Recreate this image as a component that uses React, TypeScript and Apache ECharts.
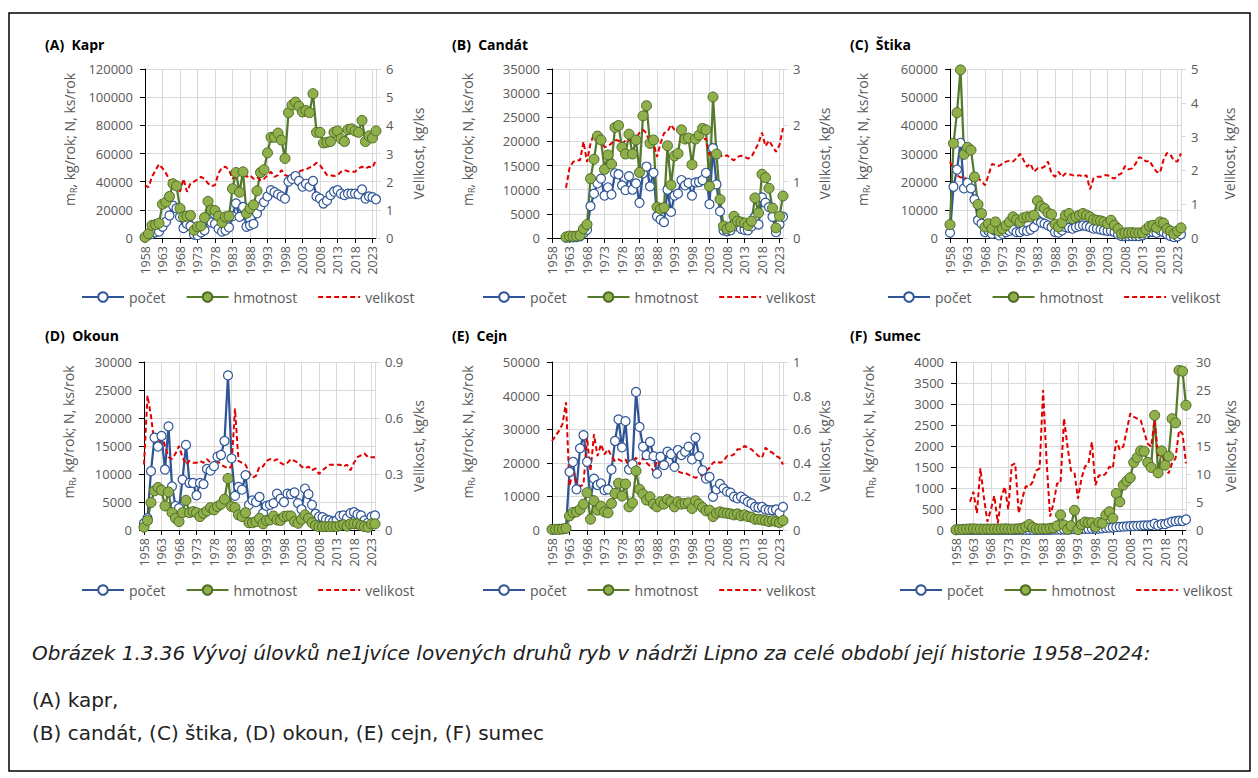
import React, { useEffect, useRef } from "react";
import * as echarts from "echarts";

const years: string[] = [];
for (let y = 1958; y <= 2024; y++) years.push(String(y));

// (A) Kapr
const kaprPocet = [
  500, 2000, 3000, 4000, 4500, 8000, 11500, 16000, 23000, 21000,
  15000, 7000, 10000, 8500, 2500, 2000, 4000, 5500, 13000, 11000,
  10000, 6500, 4500, 5500, 7500, 15500, 24500, 15000, 22000, 8000,
  9000, 10000, 17500, 22500, 25500, 29500, 34000, 32500, 31000, 29500,
  28000, 40000, 42000, 44000, 40500, 36500, 38500, 36500, 40500, 29500,
  28000, 24500, 26500, 30500, 33000, 34000, 31500, 30500, 31500, 31500,
  31500, 31000, 34500, 28000, 29500, 29000, 27500,
];
const kaprHmotnost = [
  500, 3000, 9000, 9500, 10500, 24000, 25500, 29500, 38500, 37000,
  21000, 15000, 15500, 16000, 5500, 8000, 8500, 14500, 26000, 20000,
  19500, 15500, 11000, 15000, 15500, 35000, 46500, 32500, 47000, 17500,
  21000, 23500, 33500, 46500, 48500, 60500, 71500, 71500, 74500, 69500,
  56500, 89000, 94500, 96500, 93500, 89500, 90500, 89000, 102500, 75000,
  75000, 67500, 68000, 68500, 75000, 76000, 70500, 68500, 77000, 77500,
  76000, 75000, 83500, 68500, 72500, 71000, 76000,
];
const kaprVelikost = [
  1.88, 1.8, 2.17, 2.4, 2.62, 2.47, 2.3, 2.05, 1.75, 1.93,
  1.64, 2.1, 1.64, 1.94, 2.0, 2.08, 2.17, 2.1, 1.94, 1.84,
  1.88, 2.3, 2.5, 2.53, 2.41, 2.1, 2.23, 2.35, 2.3, 2.17,
  2.23, 2.1, 2.17, 2.05, 2.1, 2.23, 2.35, 2.17, 2.23, 2.41,
  2.23, 2.2, 2.23, 2.3, 2.35, 2.41, 2.43, 2.5, 2.55, 2.67,
  2.58, 2.41, 2.23, 2.23, 2.2, 2.23, 2.35, 2.41, 2.37, 2.35,
  2.35, 2.47, 2.53, 2.47, 2.53, 2.5, 2.77,
];

// (B) Candát
const candatPocet = [
  null, null, null, null, 100, 150, 150, 200, 350, 1000,
  1700, 6600, 9200, 11300, 12300, 8800, 10500, 9000, 13400, 13200,
  10900, 9900, 12800, 10000, 11300, 7300, 13400, 14800, 10700, 13500,
  4500, 3800, 3300, 10000, 5400, 8800, 9200, 12000, 10900, 11400,
  8800, 11500, 11600, 12000, 13500, 7000, 18600, 11100, 5500, 1600,
  1400, 1600, 3000, 2400, 1900, 1700, 1600, 2400, 4400, 2800,
  8400, 7300, 6400, 4400, 1200, 2800, 4400,
];
const candatHmotnost = [
  null, null, null, null, 200, 400, 350, 400, 550, 1900,
  2800, 12300, 16300, 21100, 20300, 14200, 17200, 15300, 22900, 23300,
  18800, 17400, 21500, 17400, 20300, 13600, 25300, 27400, 19600, 20300,
  6400, 6000, 6300, 19100, 11000, 17000, 17500, 22400, 20500, 20700,
  15200, 20500, 21300, 22700, 22400, 10700, 29200, 17400, 8000, 2500,
  1900, 2300, 4500, 3500, 3300, 3100, 2600, 3500, 8300, 5200,
  13200, 12500, 10300, 6200, 2100, 4500, 8700,
];
const candatVelikost = [
  null, null, null, null, 0.89, 1.24, 1.35, 1.38, 1.38, 1.71,
  1.35, 1.68, 1.85, 1.79, 1.8, 1.61, 1.63, 1.68, 1.74, 1.73,
  1.67, 1.73, 1.77, 1.68, 1.77, 1.87, 1.92, 1.86, 1.68, 1.69,
  1.44, 1.68, 1.86, 1.89, 2.01, 1.92, 1.89, 1.85, 1.81, 1.74,
  1.79, 1.75, 1.77, 1.74, 1.77, 1.47, 1.56, 1.53, 1.47, 1.44,
  1.47, 1.41, 1.38, 1.44, 1.46, 1.44, 1.41, 1.44, 1.56, 1.68,
  1.87, 1.63, 1.73, 1.63, 1.53, 1.65, 1.95,
];

// (C) Štika
const stikaPocet = [
  1900, 18200, 24300, 33800, 17600, 19600, 17600, 13700, 6300, 5100,
  2100, 2500, 1500, 2500, 950, 1500, 2100, 2500, 3000, 2100,
  2100, 2700, 2500, 3000, 3900, 6300, 5500, 5100, 4500, 3900,
  2100, 1900, 2700, 3900, 3600, 3300, 3900, 4200, 4500, 4200,
  3900, 3300, 3300, 3000, 2700, 2500, 2500, 2100, 1300, 700,
  700, 700, 700, 700, 700, 950, 1500, 2100, 2100, 1800,
  2700, 2100, 1300, 700, 350, 600, 1300,
];
const stikaHmotnost = [
  4750, 33600, 44500, 59700, 29700, 32200, 31200, 21700, 11900, 8700,
  3900, 5100, 3300, 5700, 2500, 3300, 4500, 5700, 7500, 6500,
  5700, 7200, 7500, 7500, 8100, 13200, 11300, 10500, 8900, 8400,
  4900, 3900, 5500, 8100, 8700, 6900, 7500, 8100, 8700, 8100,
  7500, 6500, 6300, 6100, 5700, 5100, 6300, 4500, 3300, 1500,
  1800, 1900, 1900, 1800, 1800, 1800, 3000, 4200, 4500, 3700,
  5700, 5300, 3300, 2500, 1500, 2500, 3600,
];
const stikaVelikost = [
  2.26, 2.0, 1.86, 1.79, 1.81, 1.71, 1.76, 1.86, 1.76, 1.69,
  1.56, 1.86, 2.19, 2.16, 2.13, 2.2, 2.26, 2.29, 2.26, 2.36,
  2.49, 2.31, 2.11, 2.2, 1.96, 2.06, 2.06, 2.11, 2.26, 1.91,
  1.81, 1.96, 1.81, 1.91, 1.89, 1.86, 1.83, 1.86, 1.81, 1.86,
  1.44, 1.76, 1.81, 1.81, 1.86, 1.86, 1.79, 1.76, 1.86, 1.91,
  2.13, 2.03, 2.06, 2.19, 2.39, 2.36, 2.26, 2.29, 2.11, 1.96,
  1.93, 2.31, 2.52, 2.46, 2.29, 2.26, 2.5,
];

// (D) Okoun
const okounPocet = [
  1200, 2100, 10500, 16500, 14900, 16800, 10800, 18500, 7800, 4300,
  3900, 9000, 15200, 8400, 8400, 6200, 8400, 8200, 10900, 10600,
  11400, 13100, 13400, 15900, 27600, 12800, 6100, 7700, 7200, 9800,
  4500, 5300, 5000, 5900, 3000, 4300, 4500, 4800, 6500, 5600,
  5000, 6500, 6400, 6700, 4800, 3700, 7400, 6400, 4500, 2900,
  2400, 2300, 1900, 1700, 1500, 1700, 2500, 2600, 2100, 3000,
  3200, 2800, 2600, 1700, 1300, 2400, 2600,
];
const okounHmotnost = [
  500, 1700, 4900, 7000, 7600, 7100, 4300, 6800, 3100, 2100,
  1500, 3100, 5300, 3100, 3300, 3100, 2400, 3000, 3400, 4000,
  3600, 4200, 4600, 5500, 9200, 4200, 4000, 2700, 2400, 3100,
  1300, 1300, 1500, 2100, 1100, 1700, 1800, 2500, 1800, 1700,
  2400, 2500, 2500, 1500, 1200, 1900, 2700, 2100, 1300, 800,
  600, 600, 600, 600, 600, 600, 800, 950, 700, 1100,
  1100, 1100, 800, 600, 500, 1100, 1100,
];
const okounVelikost = [
  0.35, 0.72, 0.61, 0.46, 0.44, 0.51, 0.45, 0.39, 0.38, 0.41,
  0.45, 0.39, 0.35, 0.37, 0.36, 0.36, 0.37, 0.36, 0.38, 0.36,
  0.34, 0.37, 0.35, 0.34, 0.33, 0.34, 0.65, 0.37, 0.36, 0.35,
  0.31, 0.28, 0.29, 0.34, 0.34, 0.37, 0.38, 0.37, 0.38, 0.36,
  0.35, 0.36, 0.38, 0.37, 0.36, 0.34, 0.33, 0.34, 0.32, 0.33,
  0.3, 0.32, 0.335, 0.35, 0.35, 0.35, 0.35, 0.34, 0.35, 0.32,
  0.36, 0.39, 0.4, 0.41, 0.39, 0.39, 0.39,
];

// (E) Cejn
const cejnPocet = [
  200, 200, 300, 300, 500, 17300, 20300, 12100, 24300, 28200,
  20300, 9100, 15300, 13400, 13900, 11900, 12100, 18000, 26500, 32900,
  24600, 32400, 18000, 19600, 41100, 30700, 24800, 22300, 26200, 22000,
  16800, 21800, 19300, 23300, 22600, 18800, 23800, 22300, 23300, 24800,
  21000, 27500, 22000, 17800, 15300, 15800, 9900, 12100, 13700, 12400,
  11400, 11100, 9900, 9400, 9900, 9100, 8400, 7900, 6900, 6700,
  6900, 6100, 5900, 5900, 6100, 5100, 6900,
];
const cejnHmotnost = [
  200, 200, 200, 300, 500, 4200, 5200, 5400, 6100, 7700,
  11100, 3200, 8700, 5900, 7100, 5400, 5100, 7900, 10900, 13900,
  10100, 13700, 6900, 8100, 17600, 12100, 10700, 8900, 9900, 7700,
  6900, 8400, 7700, 9100, 8400, 6900, 8400, 7700, 7900, 8100,
  6400, 8700, 7700, 6700, 5700, 5900, 4000, 5000, 5400, 5100,
  5000, 4800, 4500, 4800, 4200, 4500, 4000, 3800, 3200, 3200,
  3000, 2800, 2500, 2800, 2500, 2200, 2800,
];
const cejnVelikost = [
  0.53, 0.56, 0.59, 0.63, 0.76, 0.26, 0.36, 0.28, 0.26, 0.27,
  0.55, 0.35, 0.57, 0.44, 0.51, 0.45, 0.48, 0.44, 0.41, 0.42,
  0.41, 0.42, 0.38, 0.41, 0.43, 0.39, 0.43, 0.4, 0.38, 0.35,
  0.41, 0.39, 0.4, 0.39, 0.37, 0.37, 0.35, 0.34, 0.34, 0.33,
  0.32, 0.31, 0.32, 0.33, 0.35, 0.37, 0.4, 0.41, 0.4, 0.41,
  0.44, 0.44, 0.45, 0.48, 0.48, 0.5, 0.49, 0.48, 0.46, 0.44,
  0.43, 0.49, 0.47, 0.46, 0.44, 0.43, 0.39,
];

// (F) Sumec
const sumecPocet = [
  2, 2, 2, 2, 3, 3, 3, 3, 3, 3,
  3, 3, 3, 3, 3, 3, 3, 4, 4, 4,
  4, 5, 5, 5, 5, 5, 5, 5, 8, 10,
  10, 12, 12, 15, 20, 15, 20, 25, 25, 30,
  30, 35, 40, 50, 55, 60, 70, 75, 80, 85,
  90, 95, 100, 105, 110, 110, 115, 150, 110, 140,
  140, 170, 200, 210, 220, 215, 250,
];
const sumecHmotnost = [
  5, 10, 15, 20, 25, 30, 20, 25, 20, 25,
  20, 25, 20, 25, 30, 25, 20, 25, 30, 40,
  80, 130, 60, 30, 25, 30, 25, 40, 50, 100,
  360, 120, 15, 100, 470, 10, 130, 190, 175, 175,
  80, 180, 160, 360, 435, 280, 870, 670, 1070, 1165,
  1245, 1610, 1725, 1885, 1875, 1610, 1490, 2730, 1360, 1885,
  1545, 1755, 2650, 2550, 3800, 3780, 2970,
];
const sumecVelikost = [
  null, null, null, null, 5.05, 6.8, 3.0, 11.0, 5.9, 1.5,
  3.6, 6.1, 1.2, 5.9, 7.7, 3.7, 11.6, 11.9, 3.0, 5.6,
  7.8, 7.7, 8.6, 10.6, 11.0, 25.0, 12.2, 2.4, 4.8, 8.3,
  8.4, 19.9, 14.9, 10.6, 10.2, 5.6, 9.2, 11.3, 11.9, 15.7,
  8.0, 9.8, 9.6, 10.1, 11.3, 11.0, 16.0, 14.3, 14.9, 17.8,
  20.8, 20.2, 19.9, 19.6, 17.5, 15.4, 14.9, 19.6, 13.2, 14.9,
  11.6, 10.1, 11.9, 12.8, 17.8, 17.2, 11.9,
];

const panelTitles = ["(A)  Kapr", "(B)  Candát", "(C)  Štika", "(D)  Okoun", "(E)  Cejn", "(F)  Sumec"];
const leftMax = [120000, 35000, 60000, 30000, 50000, 4000];
const leftInterval = [20000, 5000, 10000, 5000, 10000, 500];
const rightMax = [6, 3, 5, 0.9, 1, 30];
const rightInterval = [1, 1, 1, 0.3, 0.2, 5];
const legendNames = ["počet", "hmotnost", "velikost"];
const leftAxisName = "{a|m}{b|R}{a|, kg/rok; N, ks/rok}";
const rightAxisName = "Velikost, kg/ks";
const captionLines = [
  "Obrázek 1.3.36 Vývoj úlovků ne1jvíce lovených druhů ryb v nádrži Lipno za celé období její historie 1958–2024:",
  "(A) kapr,",
  "(B) candát, (C) štika, (D) okoun, (E) cejn, (F) sumec",
];

const seriesData = [
  [kaprPocet, kaprHmotnost, kaprVelikost],
  [candatPocet, candatHmotnost, candatVelikost],
  [stikaPocet, stikaHmotnost, stikaVelikost],
  [okounPocet, okounHmotnost, okounVelikost],
  [cejnPocet, cejnHmotnost, cejnVelikost],
  [sumecPocet, sumecHmotnost, sumecVelikost],
];

// layout (positions only)
const layouts = [
  { left: 145, top: 69, width: 231, height: 169, legendLeft: 81, legendTop: 290, titleX: 45, titleY: 44, lGap: 67, rGap: 33 },
  { left: 552, top: 69, width: 231, height: 169, legendLeft: 482, legendTop: 290, titleX: 452, titleY: 44, lGap: 76, rGap: 32 },
  { left: 950, top: 69, width: 231, height: 169, legendLeft: 887, legendTop: 290, titleX: 850, titleY: 44, lGap: 79, rGap: 39 },
  { left: 144, top: 362, width: 231, height: 168, legendLeft: 81, legendTop: 583, titleX: 45, titleY: 335, lGap: 67, rGap: 34 },
  { left: 552, top: 362, width: 231, height: 168, legendLeft: 482, legendTop: 583, titleX: 452, titleY: 335, lGap: 76, rGap: 32 },
  { left: 956, top: 362, width: 230, height: 168, legendLeft: 899, legendTop: 583, titleX: 850, titleY: 335, lGap: 79, rGap: 35 },
];

const FONT = "'Open Sans', 'Liberation Sans', sans-serif";
const CAPTION_FONT = "'DejaVu Sans', 'Open Sans', sans-serif";
const GRAY = "#595959";
const GRID_GRAY = "#d9d9d9";
const BLUE = "#2f5597";
const GREEN_LINE = "#557a2c";
const GREEN_FILL = "#8fb04a";
const GREEN_BORDER = "#4f6b25";
const RED = "#e00000";

export default function App() {
  const ref = useRef<HTMLDivElement>(null);

  useEffect(() => {
    if (!ref.current) return;
    const chart = echarts.init(ref.current, null, { renderer: "svg" });
    const grid: any[] = [];
    const xAxis: any[] = [];
    const yAxis: any[] = [];
    const series: any[] = [];
    const legend: any[] = [];
    const graphic: any[] = [
      {
        type: "rect",
        silent: true,
        shape: { x: 9, y: 13, width: 1241, height: 758 },
        style: { fill: "none", stroke: "#000", lineWidth: 1.5 },
      },
    ];

    layouts.forEach((L, i) => {
      grid.push({ left: L.left, top: L.top, width: L.width, height: L.height });
      xAxis.push({
        type: "category",
        gridIndex: i,
        data: years,
        boundaryGap: false,
        axisLine: { show: true, lineStyle: { color: "#000", width: 1 } },
        axisTick: { show: true, interval: 4, length: 5, lineStyle: { color: "#000" } },
        axisLabel: { interval: 4, rotate: 90, color: GRAY, fontSize: 12.5, fontFamily: FONT, margin: 8 },
        splitLine: { show: true, interval: 4, lineStyle: { color: GRID_GRAY, width: 1 } },
      });
      yAxis.push({
        type: "value",
        gridIndex: i,
        position: "left",
        min: 0,
        max: leftMax[i],
        interval: leftInterval[i],
        axisLine: { show: true, lineStyle: { color: "#000", width: 1 } },
        axisTick: { show: true, length: 5, lineStyle: { color: "#000" } },
        axisLabel: {
          color: GRAY,
          fontSize: 13,
          fontFamily: FONT,
          margin: 12,
          formatter: (v: number) => String(v),
        },
        splitLine: { show: true, lineStyle: { color: GRID_GRAY, width: 1 } },
        name: leftAxisName,
        nameLocation: "middle",
        nameRotate: 90,
        nameGap: L.lGap,
        nameTextStyle: {
          color: GRAY,
          fontSize: 14,
          fontFamily: FONT,
          padding: [0, 0, 0, 28],
          rich: {
            a: { color: GRAY, fontSize: 14, fontFamily: FONT, lineHeight: 18 },
            b: { color: GRAY, fontSize: 9, fontFamily: FONT, lineHeight: 10, verticalAlign: "bottom" },
          },
        },
      });
      yAxis.push({
        type: "value",
        gridIndex: i,
        position: "right",
        min: 0,
        max: rightMax[i],
        interval: rightInterval[i],
        axisLine: { show: true, lineStyle: { color: GRID_GRAY, width: 1 } },
        axisTick: { show: true, length: 5, lineStyle: { color: GRID_GRAY } },
        axisLabel: { color: GRAY, fontSize: 13, fontFamily: FONT, margin: 10 },
        splitLine: { show: false },
        name: rightAxisName,
        nameLocation: "middle",
        nameRotate: 90,
        nameGap: L.rGap,
        nameTextStyle: { color: GRAY, fontSize: 14, fontFamily: FONT, lineHeight: 18 },
      });
      const [p, h, v] = seriesData[i];
      series.push({
        name: legendNames[0],
        type: "line",
        xAxisIndex: i,
        yAxisIndex: 2 * i,
        data: p,
        symbol: "circle",
        symbolSize: 9,
        showAllSymbol: true,
        itemStyle: { color: "#ffffff", borderColor: BLUE, borderWidth: 1.2 },
        lineStyle: { color: BLUE, width: 2.25 },
        emphasis: { disabled: true },
      });
      series.push({
        name: legendNames[1],
        type: "line",
        xAxisIndex: i,
        yAxisIndex: 2 * i,
        data: h,
        symbol: "circle",
        symbolSize: 10,
        showAllSymbol: true,
        itemStyle: { color: GREEN_FILL, borderColor: GREEN_BORDER, borderWidth: 1 },
        lineStyle: { color: GREEN_LINE, width: 2.25 },
        emphasis: { disabled: true },
      });
      series.push({
        name: legendNames[2],
        type: "line",
        xAxisIndex: i,
        yAxisIndex: 2 * i + 1,
        data: v,
        symbol: "none",
        itemStyle: { color: RED },
        lineStyle: { color: RED, width: 2, type: [5, 3] },
        emphasis: { disabled: true },
      });
      legend.push({
        data: [
          { name: legendNames[0] },
          { name: legendNames[1] },
          { name: legendNames[2], itemStyle: { opacity: 0 } },
        ],
        left: L.legendLeft,
        top: L.legendTop,
        padding: 0,
        itemWidth: 42,
        itemHeight: 12,
        itemGap: 20,
        selectedMode: false,
        textStyle: { color: GRAY, fontSize: 14, fontFamily: FONT },
      });
      graphic.push({
        type: "text",
        x: L.titleX,
        y: L.titleY,
        silent: true,
        style: {
          text: panelTitles[i],
          fontSize: 14,
          fontWeight: "bold",
          fontFamily: FONT,
          fill: "#000",
          verticalAlign: "middle",
        },
      });
    });

    const captionY = [653, 700, 733];
    captionLines.forEach((t, k) => {
      graphic.push({
        type: "text",
        x: 32,
        y: captionY[k],
        silent: true,
        style: {
          text: t,
          fontSize: 20,
          fontStyle: k === 0 ? "italic" : "normal",
          fontFamily: CAPTION_FONT,
          fill: "#222",
          verticalAlign: "middle",
        },
      });
    });

    chart.setOption({
      animation: false,
      backgroundColor: "#ffffff",
      tooltip: { show: false },
      grid,
      xAxis,
      yAxis,
      series,
      legend,
      graphic,
    });
    return () => chart.dispose();
  }, []);

  return (
    <div
      ref={ref}
      style={{ position: "absolute", left: 0, top: 0, width: 1258, height: 778, background: "#fff" }}
    />
  );
}
